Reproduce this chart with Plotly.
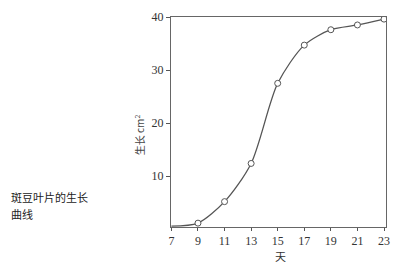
import plotly.graph_objects as go

days = [7, 9, 11, 13, 15, 17, 19, 21, 23]
area = [0.6, 1.15, 5.2, 12.4, 27.5, 34.7, 37.6, 38.5, 39.6]
marker_days = days[1:]
marker_area = area[1:]
x_ticks = [7, 9, 11, 13, 15, 17, 19, 21, 23]
y_ticks = [10, 20, 30, 40]
caption_lines = ["斑豆叶片的生长", "曲线"]

W, H = 400, 268
L, R, T, B = 171, 10, 11, 41
pw, ph = W - L - R, H - T - B

def px(x):
    return (x - L) / pw

def py(y):
    return (H - B - y) / ph

fig = go.Figure()
fig.add_trace(go.Scatter(x=days, y=area, mode="lines",
                         line=dict(color="#555555", width=1.3, shape="spline", smoothing=0.8),
                         hoverinfo="skip"))
fig.add_trace(go.Scatter(x=marker_days, y=marker_area, mode="markers",
                         marker=dict(symbol="circle", size=6, color="white",
                                     line=dict(color="#555555", width=1))))

serif = "Liberation Serif, DejaVu Serif, serif"
cjk = "Noto Sans CJK SC"
fig.update_layout(
    width=W, height=H, margin=dict(l=L, r=R, t=T, b=B),
    paper_bgcolor="white", plot_bgcolor="white", showlegend=False,
    xaxis=dict(range=[6.97, 23.15], tickvals=x_ticks, ticks="outside", ticklen=3,
               tickcolor="#555", showgrid=False, zeroline=False, showline=True,
               linecolor="#666", linewidth=1, mirror=True,
               tickfont=dict(family=serif, size=12, color="#333")),
    yaxis=dict(range=[0.42, 40], tickvals=y_ticks, ticks="outside", ticklen=4,
               tickcolor="#555", showgrid=False, zeroline=False, showline=True,
               linecolor="#666", linewidth=1, mirror=True,
               tickfont=dict(family=serif, size=12, color="#333")),
)
fig.add_annotation(xref="paper", yref="paper", x=px(283), y=py(257), text="天",
                   xanchor="center", yanchor="middle",
                   showarrow=False, font=dict(family=cjk, size=11, color="#333"))
fig.add_annotation(xref="paper", yref="paper", x=px(139), y=py(132), text="生长 cm<sup>2</sup>",
                   xanchor="center", yanchor="middle",
                   textangle=-90, showarrow=False, font=dict(family=cjk, size=10, color="#444"))
for i, line in enumerate(caption_lines):
    fig.add_annotation(xref="paper", yref="paper", x=px(6), y=py(196 + 18 * i), text=line,
                       xanchor="left", yanchor="middle", align="left", showarrow=False,
                       font=dict(family=cjk, size=11, color="#222"))
fig.write_html("out.html")
